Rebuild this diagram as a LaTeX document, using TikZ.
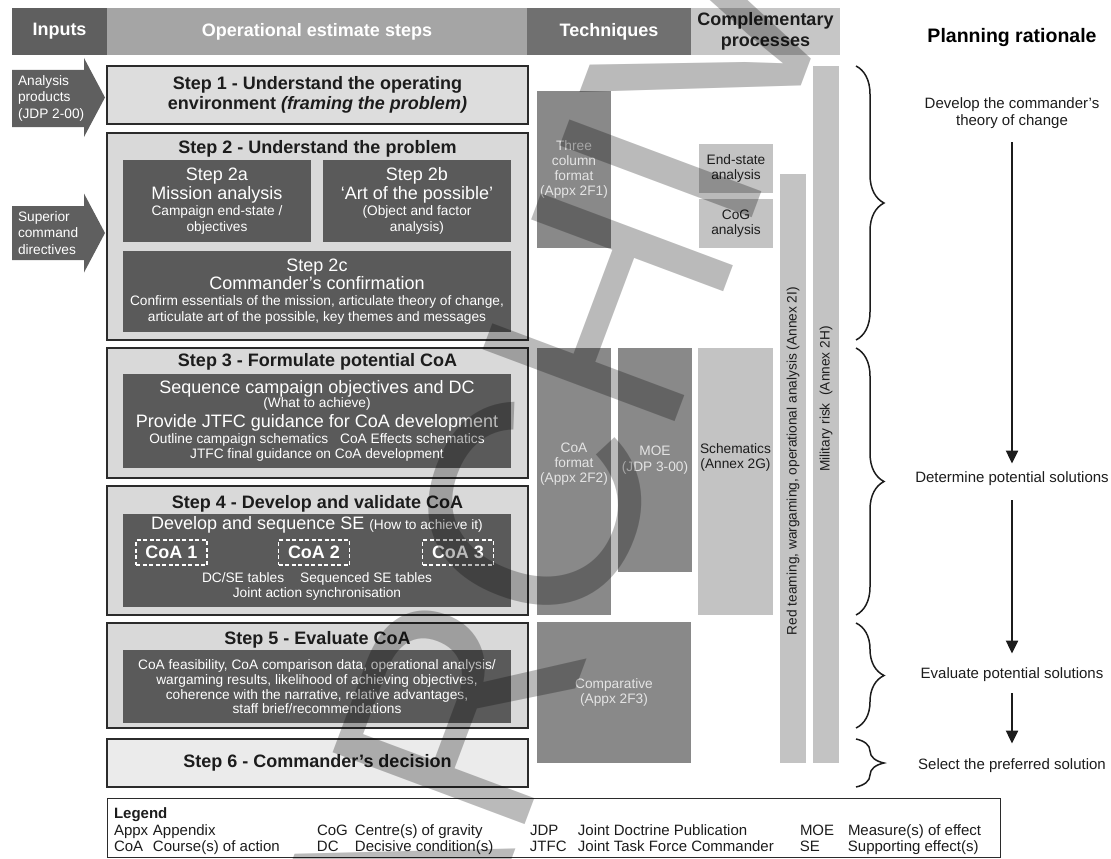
\documentclass[tikz,border=0pt]{standalone}
\usepackage{fontspec}
\setmainfont{Liberation Sans}
\usetikzlibrary{arrows.meta,positioning,decorations.pathreplacing}

\definecolor{hdark}{HTML}{5F5F5F}
\definecolor{hmid}{HTML}{A5A5A5}
\definecolor{htech}{HTML}{707070}
\definecolor{hlight}{HTML}{C6C6C6}
\definecolor{stepfill}{HTML}{D9D9D9}
\definecolor{stepone}{HTML}{DDDDDD}
\definecolor{stepsix}{HTML}{EBEBEB}
\definecolor{inner}{HTML}{5A5A5A}
\definecolor{techdark}{HTML}{898989}
\definecolor{techlight}{HTML}{C3C3C3}
\definecolor{techink}{HTML}{E4E4E4}
\definecolor{edge}{HTML}{2B2B2B}
\definecolor{ink}{HTML}{1C1C1C}

\newcommand{\fmain}{\fontsize{18}{20}\selectfont}
\newcommand{\fsmall}{\fontsize{13.7}{15.5}\selectfont}
\newcommand{\flabel}{\fontsize{15}{16.5}\selectfont}
\lineskiplimit=-100pt

\begin{document}
\begin{tikzpicture}[x=1pt,y=-1pt,
  every node/.style={outer sep=0pt},
  hdr/.style={minimum height=47pt,inner sep=0pt,font=\fmain\bfseries,text=white},
  stepbox/.style={draw=edge,line width=1.5pt,fill=stepfill,minimum width=421pt,inner sep=0pt},
  steptitle/.style={font=\fmain\bfseries,text=ink},
  darkbox/.style={fill=inner,text=white,align=center,inner sep=0pt,font=\fsmall},
  darktext/.style={text=white,align=center,inner sep=0pt,font=\fsmall},
  coabox/.style={draw=white,dash pattern=on 4pt off 2.5pt,line width=1.8pt,minimum width=71pt,minimum height=25pt,inner sep=0pt,font=\fmain\bfseries,text=white},
  techbox/.style={fill=techdark,minimum width=74pt,inner sep=0pt},
  techtext/.style={font=\fontsize{13.7}{15.3}\selectfont,align=center,text=techink},
  bar/.style={fill=techlight,inner sep=0pt},
  bartext/.style={rotate=90,font=\fontsize{13.7}{15}\selectfont,text=ink,inner sep=0pt},
  input/.style={anchor=west,align=left,inner sep=2pt,font=\fontsize{13.7}{16.5}\selectfont,text=white},
  rat/.style={font=\flabel,align=center,inner sep=2pt,text=ink},
  flow/.style={draw=ink,line width=2.4pt,-{Triangle[length=13pt,width=12pt]}},
  brace/.style={draw=ink,line width=1.5pt,decorate,decoration={brace,amplitude=28pt}}
]
  \useasboundingbox (0,0) rectangle (1111,859);

  \node[hdr,fill=hdark,minimum width=95pt] (inputs) at (59.5,31.5) {Inputs};
  \node[hdr,fill=hmid,minimum width=420pt,right=0pt of inputs] (opsteps) {Operational estimate steps};
  \node[hdr,fill=htech,minimum width=164pt,right=0pt of opsteps] (techniques) {Techniques};
  \node[hdr,fill=hlight,minimum width=149pt,right=0pt of techniques,align=center,text=ink,
        font=\fontsize{18}{20.5}\selectfont\bfseries] (complementary) {Complementary\\processes};
  \node[font=\fontsize{19.5}{22}\selectfont\bfseries,text=black] (rationale) at (1012,38) {Planning rationale};

  \fill[hdark] (12,70) -- (84,70) -- (84,58) -- (105,97.5) -- (84,137) -- (84,127) -- (12,127) -- cycle;
  \node[input] (analysis) at (16,98) {Analysis\\products\\(JDP 2-00)};
  \fill[hdark] (12,206) -- (84,206) -- (84,193.5) -- (105,233) -- (84,272.5) -- (84,260) -- (12,260) -- cycle;
  \node[input] (superior) at (16,233) {Superior\\command\\directives};

  \node[stepbox,fill=stepone,minimum height=58pt,align=center,text=ink,
        font=\fontsize{18}{20}\selectfont\bfseries] (step1) at (317.5,95)
        {Step 1 - Understand the operating\\environment \textit{(framing the problem)}};
  \node[stepbox,minimum height=207pt,below=9pt of step1] (step2) {};
  \node[stepbox,minimum height=130pt,below=8pt of step2] (step3) {};
  \node[stepbox,minimum height=129pt,below=8pt of step3] (step4) {};
  \node[stepbox,minimum height=105pt,below=8pt of step4] (step5) {};
  \node[stepbox,fill=stepsix,minimum height=48pt,below=11pt of step5,
        font=\fmain\bfseries,text=ink] (step6) {Step 6 - Commander’s decision};

  \node[steptitle] (title2) at (317.5,149) {Step 2 - Understand the problem};
  \node[steptitle] (title3) at (317.5,362) {Step 3 - Formulate potential CoA};
  \node[steptitle] (title4) at (317.5,504) {Step 4 - Develop and validate CoA};
  \node[steptitle] (title5) at (317.5,640) {Step 5 - Evaluate CoA};

  \node[darkbox,minimum width=188pt,minimum height=82pt] (step2a) at (217,201)
        {{\fmain Step 2a}\\[3.5pt]{\fmain Mission analysis}\\[1pt]Campaign end-state /\\[0.5pt]objectives};
  \node[darkbox,minimum width=188pt,minimum height=82pt] (step2b) at (417,201)
        {{\fmain Step 2b}\\[3.5pt]{\fmain `Art of the possible'}\\[1pt](Object and factor\\[0.5pt]analysis)};
  \node[darkbox,minimum width=388pt,minimum height=81pt] (step2c) at (317,291.5)
        {{\fmain Step 2c}\\[2pt]{\fmain Commander’s confirmation}\\[0.5pt]Confirm essentials of the mission, articulate theory of change,\\[0.5pt]articulate art of the possible, key themes and messages};

  \node[darkbox,minimum width=388pt,minimum height=94pt] (step3in) at (317,421)
        {{\fmain Sequence campaign objectives and DC}\\[-1pt](What to achieve)\\[4pt]{\fmain Provide JTFC guidance for CoA development}\\[1pt]Outline campaign schematics\hspace{12pt}CoA Effects schematics\\[-0.5pt]JTFC final guidance on CoA development};

  \node[darkbox,minimum width=388pt,minimum height=93pt] (step4in) at (317,560.5) {};
  \node[darktext,font=\fmain] (sequence) at (317,525) {Develop and sequence SE {\fsmall (How to achieve it)}};
  \node[coabox] (coa1) at (171.5,552.5) {CoA 1};
  \node[coabox] (coa2) at (314,552.5) {CoA 2};
  \node[coabox] (coa3) at (458,552.5) {CoA 3};
  \node[darktext] (tables) at (317,586) {DC/SE tables\hspace{16pt}Sequenced SE tables\\[-0.5pt]Joint action synchronisation};

  \node[darkbox,minimum width=388pt,minimum height=73pt] (step5in) at (317,686.5)
        {CoA feasibility, CoA comparison data, operational analysis/\\[-0.5pt]wargaming results, likelihood of achieving objectives,\\[-0.5pt]coherence with the narrative, relative advantages,\\[-1pt]staff brief/recommendations};

  \node[techbox,minimum height=157pt,techtext] (threecol) at (574,169.5) {Three\\column\\format\\(Appx 2F1)};
  \node[techbox,minimum height=267pt] (coaformat) at (574,481.5) {};
  \node[techtext] (coaformatlbl) at (574,464) {CoA\\format\\(Appx 2F2)};
  \node[techbox,minimum height=224pt,techtext] (moe) at (655,460) {MOE\\(JDP 3-00)};
  \node[techbox,fill=techlight,minimum width=75pt,minimum height=267pt] (schematics) at (735.5,481.5) {};
  \node[techtext,text=ink] (schematicslbl) at (735.5,457.5) {Schematics\\(Annex 2G)};
  \node[techbox,minimum width=154pt,minimum height=141pt,techtext] (comparative) at (614,692.5) {Comparative\\(Appx 2F3)};

  \node[techbox,fill=techlight,minimum height=49pt,techtext,text=ink] (endstate) at (736,168.5) {End-state\\analysis};
  \node[techbox,fill=techlight,minimum height=49pt,techtext,text=ink] (cog) at (736,223.5) {CoG\\analysis};
  \node[bar,minimum width=26pt,minimum height=589pt] (redteam) at (793,468.5) {};
  \node[bartext] (redteamlbl) at (793,461) {Red teaming, wargaming, operational analysis (Annex 2I)};
  \node[bar,minimum width=25.5pt,minimum height=697pt] (milrisk) at (825.75,414.5) {};
  \node[bartext] (milrisklbl) at (826,399) {Military risk\ \ (Annex 2H)};

  \coordinate (bx) at (856,0);
  \draw[brace] (step1.north -| bx) -- (step2.south -| bx);
  \draw[brace] (step3.north -| bx) -- (step4.south -| bx);
  \draw[brace] (step5.north -| bx) -- (step5.south -| bx);
  \draw[brace] (step6.north -| bx) -- (step6.south -| bx);

  \node[rat] (theory) at (1012,113) {Develop the commander’s\\[0.5pt]theory of change};
  \node[rat] (determine) at (1012,478.5) {Determine potential solutions};
  \node[rat] (evaluate) at (1012,674.5) {Evaluate potential solutions};
  \node[rat] (select) at (1012,765.5) {Select the preferred solution};
  \draw[flow,shorten <=12pt,shorten >=6pt] (theory) -- (determine);
  \draw[flow,shorten <=13pt,shorten >=12pt] (determine) -- (evaluate);
  \draw[flow,shorten <=10pt,shorten >=13pt] (evaluate) -- (select);

  \node[draw=edge,line width=1pt,minimum width=893pt,minimum height=59pt,inner sep=0pt] (legend) at (553.5,827.5) {};
  \node[anchor=north west,inner sep=0pt,font=\flabel,text=ink] (legendtext) at (114,807)
    {\lineskiplimit=0pt\setlength{\tabcolsep}{0pt}\begin{tabular}{p{39pt}p{164pt}p{38pt}p{175pt}p{48pt}p{222pt}p{48pt}l}
     \multicolumn{8}{l}{\bfseries Legend}\\
     Appx & Appendix & CoG & Centre(s) of gravity & JDP & Joint Doctrine Publication & MOE & Measure(s) of effect\\
     CoA & Course(s) of action & DC & Decisive condition(s) & JTFC & Joint Task Force Commander & SE & Supporting effect(s)
     \end{tabular}};

  \begin{scope}
    \clip (0,0) rectangle (1111,859);
    \node[rotate=69.5,text=black,text opacity=0.27,inner sep=0pt,
          font=\fontsize{298}{298}\selectfont] (watermark) at (620,277) {ARCHIVED};
  \end{scope}
\end{tikzpicture}
\end{document}
